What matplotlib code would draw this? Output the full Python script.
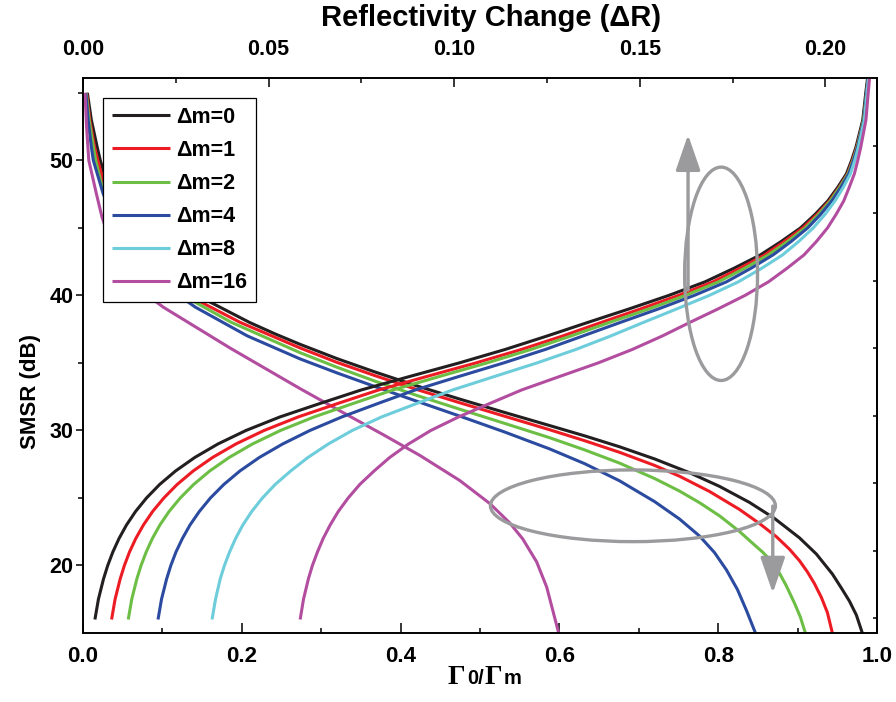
import matplotlib.pyplot as plt
from matplotlib.patches import Ellipse
from matplotlib.offsetbox import TextArea, HPacker, AnchoredOffsetbox
from matplotlib.ticker import MultipleLocator, FormatStrFormatter, NullFormatter

plt.rcParams['font.family'] = ['Liberation Sans', 'DejaVu Sans']
plt.rcParams['font.weight'] = 'bold'

labels = ['Δm=0', 'Δm=1', 'Δm=2', 'Δm=4', 'Δm=8', 'Δm=16']
colors = ['#231f20', '#ed1c24', '#6dbe45', '#2b4ba0', '#6dcddb', '#b24da0']
gray = '#9b9b9e'

# rising curves: SMSR vs reflectivity change (top axis)
smsr_rise = [16, 17.5, 19, 20, 21, 22, 23, 24, 25, 26, 27, 28, 29, 30, 31, 32, 33, 34, 35, 36,
             37, 38, 39, 40, 41, 42, 43, 44, 45, 46, 47, 48, 49, 50, 51, 53, 55, 57]
dR_0 = [0.00321, 0.00415, 0.00552, 0.00666, 0.00804, 0.00971, 0.01172, 0.01416, 0.01711, 0.02065,
        0.02494, 0.03012, 0.03636, 0.04392, 0.05305, 0.06387, 0.07497, 0.08804, 0.10135, 0.11377,
        0.12509, 0.13600, 0.14712, 0.15782, 0.16753, 0.17529, 0.18248, 0.18813, 0.19330, 0.19722,
        0.20066, 0.20331, 0.20566, 0.20706, 0.20825, 0.21007, 0.21088, 0.21176]
dR_1 = [0.00770, 0.00864, 0.01001, 0.01115, 0.01253, 0.01422, 0.01628, 0.01876, 0.02178, 0.02536,
        0.02969, 0.03491, 0.04120, 0.04880, 0.05797, 0.06868, 0.07968, 0.09264, 0.10584, 0.11812,
        0.12926, 0.13963, 0.15022, 0.16043, 0.16967, 0.17690, 0.18365, 0.18898, 0.19394, 0.19775,
        0.20109, 0.20368, 0.20599, 0.20731, 0.20847, 0.21029, 0.21110, 0.21197]
dR_2 = [0.01219, 0.01313, 0.01450, 0.01564, 0.01703, 0.01869, 0.02071, 0.02319, 0.02620, 0.02981,
        0.03414, 0.03938, 0.04567, 0.05321, 0.06224, 0.07281, 0.08353, 0.09606, 0.10883, 0.12073,
        0.13151, 0.14188, 0.15247, 0.16231, 0.17116, 0.17818, 0.18462, 0.18984, 0.19458, 0.19818,
        0.20130, 0.20385, 0.20609, 0.20744, 0.20857, 0.21029, 0.21110, 0.21197]
dR_4 = [0.02021, 0.02115, 0.02252, 0.02366, 0.02505, 0.02678, 0.02883, 0.03134, 0.03433, 0.03794,
        0.04227, 0.04751, 0.05380, 0.06114, 0.06973, 0.07949, 0.08952, 0.10130, 0.11332, 0.12458,
        0.13471, 0.14477, 0.15503, 0.16466, 0.17330, 0.17989, 0.18590, 0.19080, 0.19523, 0.19871,
        0.20173, 0.20417, 0.20631, 0.20759, 0.20868, 0.21039, 0.21110, 0.21197]
dR_8 = [0.03476, 0.03570, 0.03696, 0.03810, 0.03949, 0.04111, 0.04306, 0.04546, 0.04834, 0.05177,
        0.05596, 0.06060, 0.06610, 0.07254, 0.08043, 0.08992, 0.09957, 0.11089, 0.12231, 0.13281,
        0.14220, 0.15097, 0.15995, 0.16872, 0.17651, 0.18278, 0.18847, 0.19283, 0.19672, 0.19989,
        0.20258, 0.20481, 0.20673, 0.20791, 0.20890, 0.21050, 0.21121, 0.21197]
dR_16 = [0.05850, 0.05940, 0.06071, 0.06180, 0.06316, 0.06470, 0.06659, 0.06877, 0.07144, 0.07456,
         0.07842, 0.08263, 0.08770, 0.09372, 0.10117, 0.10960, 0.11818, 0.12843, 0.13878, 0.14800,
         0.15610, 0.16348, 0.17108, 0.17835, 0.18464, 0.18962, 0.19424, 0.19760, 0.20057, 0.20288,
         0.20494, 0.20641, 0.20780, 0.20872, 0.20954, 0.21093, 0.21153, 0.21219]

# falling curves: SMSR vs gamma0/gamma_m (bottom axis)
g_0 = [0.0055, 0.0105, 0.0178, 0.0218, 0.0318, 0.0464, 0.0676, 0.0986, 0.1438, 0.2097, 0.2419,
       0.2733, 0.3199, 0.3677, 0.4205, 0.4746, 0.5312, 0.5878, 0.6318, 0.6758, 0.7199, 0.7639,
       0.8016, 0.8394, 0.8708, 0.9023, 0.9236, 0.9438, 0.9551, 0.9652, 0.9740, 0.9815]
s_0 = [55, 53, 51, 50, 48, 46, 44, 42, 40, 38, 37.15, 36.38, 35.32, 34.33, 33.30, 32.32, 31.33,
       30.36, 29.60, 28.79, 27.89, 26.87, 25.86, 24.67, 23.49, 22.05, 20.85, 19.37, 18.33, 17.37,
       16.33, 15]
g_1 = [0.0045, 0.0085, 0.0145, 0.0186, 0.0277, 0.0408, 0.0602, 0.0887, 0.1323, 0.198, 0.2733,
       0.3199, 0.3677, 0.4205, 0.4746, 0.5312, 0.5878, 0.6318, 0.6758, 0.7199, 0.7513, 0.7891,
       0.8268, 0.8519, 0.8733, 0.8897, 0.9023, 0.9123, 0.9211, 0.9299, 0.9375, 0.9438]
s_1 = [55, 53, 51, 50, 48, 46, 44, 42, 40, 38, 36.11, 35.04, 34.06, 33.03, 32.05, 31.05, 30.05,
       29.24, 28.38, 27.41, 26.61, 25.48, 24.15, 23.11, 22.13, 21.21, 20.36, 19.53, 18.67, 17.64,
       16.52, 15]
g_2 = [0.004, 0.0077, 0.013, 0.016, 0.0242, 0.0367, 0.0554, 0.0838, 0.1258, 0.187, 0.2733,
       0.3199, 0.3677, 0.4205, 0.4746, 0.5312, 0.5878, 0.6318, 0.6758, 0.7199, 0.7513, 0.7765,
       0.8016, 0.8268, 0.8419, 0.8557, 0.8683, 0.8771, 0.8859, 0.8960, 0.9035, 0.9098]
s_2 = [55, 53, 51, 50, 48, 46, 44, 42, 40, 38, 35.76, 34.68, 33.65, 32.59, 31.57, 30.52, 29.46,
       28.56, 27.58, 26.44, 25.51, 24.65, 23.68, 22.52, 21.72, 21.0, 20.26, 19.44, 18.48, 17.22,
       16.18, 15]
g_4 = [0.0035, 0.0065, 0.0105, 0.013, 0.0252, 0.0426, 0.0642, 0.0966, 0.1415, 0.207, 0.2733,
       0.3199, 0.3677, 0.4205, 0.4746, 0.5312, 0.5878, 0.6318, 0.6758, 0.7199, 0.7513, 0.7765,
       0.7953, 0.8104, 0.8243, 0.8356, 0.8469]
s_4 = [55, 53, 51, 50, 47.57, 45, 43, 41, 39.13, 37.0, 35.30, 34.26, 33.25, 32.16, 31.06, 29.88,
       28.63, 27.54, 26.27, 24.73, 23.44, 22.18, 20.96, 19.67, 18.21, 16.67, 15]
g_16 = [0.0025, 0.0045, 0.0073, 0.0167, 0.0239, 0.0368, 0.0532, 0.0758, 0.1011, 0.1853, 0.2733,
        0.3236, 0.3777, 0.4243, 0.4746, 0.5123, 0.5375, 0.5538, 0.5714, 0.5840, 0.5991]
s_16 = [55, 52.5, 50, 47.57, 45.8, 43.57, 41.80, 40.24, 39.13, 36.10, 33.10, 31.45, 29.70, 28.15,
        26.29, 24.59, 23.15, 21.97, 20.26, 18.40, 15]

# ticks of the right axis
right_ticks = [16.1, 21.1, 26.1, 31.1, 36.1, 41.1, 46.1, 51.1]

fig = plt.figure(figsize=(8.96, 7.02), dpi=100)
ax = fig.add_axes([83 / 896, 69 / 702, 794 / 896, 555 / 702])
ax_top = ax.twiny()

lw = 2.2
falling = [(g_0, s_0, colors[0]), (g_1, s_1, colors[1]), (g_2, s_2, colors[2]),
           (g_4, s_4, colors[3]), (g_16, s_16, colors[5])]
for gx, sy, c in falling:
    ax.plot(gx, sy, color=c, lw=lw, solid_capstyle='butt')

handles = []
for dr, c, lab in zip([dR_0, dR_1, dR_2, dR_4, dR_8, dR_16], colors, labels):
    line, = ax_top.plot(dr, smsr_rise, color=c, lw=lw, label=lab, solid_capstyle='butt')
    handles.append(line)

# limits and ticks
ax.set_xlim(0, 1.0)
ax.set_ylim(15, 56.1)
ax_top.set_xlim(0, 0.2139)

ax.set_xticks([0, 0.2, 0.4, 0.6, 0.8, 1.0])
ax.xaxis.set_major_formatter(FormatStrFormatter('%.1f'))
ax.xaxis.set_minor_locator(MultipleLocator(0.1))
ax.set_yticks([20, 30, 40, 50])
ax.set_yticks([25, 35, 45, 55], minor=True)
ax.tick_params(axis='x', which='major', direction='in', length=7.2, width=1.1, pad=9.5, labelsize=16)
ax.tick_params(axis='x', which='minor', direction='in', length=3.6, width=1.1)
ax.tick_params(axis='y', which='major', direction='out', length=5, width=1.1, pad=2, labelsize=15.5)
ax.tick_params(axis='y', which='minor', direction='out', length=3.5, width=1.1)

ax_top.set_xticks([0, 0.05, 0.10, 0.15, 0.20])
ax_top.xaxis.set_major_formatter(FormatStrFormatter('%.2f'))
ax_top.xaxis.set_minor_locator(MultipleLocator(0.025))
ax_top.tick_params(axis='x', which='major', direction='in', length=6.5, width=1.1, pad=13, labelsize=15.5)
ax_top.tick_params(axis='x', which='minor', direction='in', length=3.6, width=1.1)

sec = ax.secondary_yaxis('right')
sec.set_yticks(right_ticks)
sec.yaxis.set_major_formatter(NullFormatter())
sec.tick_params(direction='in', length=3, width=1.1)

for a in (ax, ax_top):
    for sp in a.spines.values():
        sp.set_linewidth(1.2)
sec.spines['right'].set_linewidth(1.2)

# axis titles
ax.set_ylabel('SMSR (dB)', fontsize=16, fontweight='bold')
ax.yaxis.set_label_coords(-0.053, 0.436)
fig.text(491 / 896, 1 - 18 / 702, 'Reflectivity Change (ΔR)', ha='center', va='center',
         fontsize=21, fontweight='bold')

parts = [TextArea('Γ', textprops=dict(family='Liberation Serif', fontweight='bold', size=20)),
         TextArea('0/', textprops=dict(fontweight='bold', size=14.5)),
         TextArea('Γ', textprops=dict(family='Liberation Serif', fontweight='bold', size=20)),
         TextArea('m', textprops=dict(fontweight='bold', size=14.5))]
xlabel_box = HPacker(children=parts, align='baseline', pad=0, sep=1)
anchored = AnchoredOffsetbox(loc='upper center', child=xlabel_box, pad=0, borderpad=0, frameon=False,
                             bbox_to_anchor=(0.506, -0.058), bbox_transform=ax.transAxes)
ax.add_artist(anchored)

# gray ellipses and arrows marking which axis each family belongs to
ax_top.add_patch(Ellipse((0.1719, 41.6), 0.01964, 15.8, fill=False, ec=gray, lw=2.4, zorder=4))
ax_top.annotate('', xy=(0.1630, 51.9), xytext=(0.1630, 40.4),
                arrowprops=dict(arrowstyle='-|>,head_length=1.1,head_width=0.38', color=gray, lw=2.4,
                                mutation_scale=20, shrinkA=0, shrinkB=0), zorder=4)
ax_top.add_patch(Ellipse((0.14815, 24.42), 0.07677, 5.31, fill=False, ec=gray, lw=2.4, zorder=4))
ax_top.annotate('', xy=(0.18582, 17.96), xytext=(0.18582, 24.4),
                arrowprops=dict(arrowstyle='-|>,head_length=1.1,head_width=0.38', color=gray, lw=2.4,
                                mutation_scale=20, shrinkA=0, shrinkB=0), zorder=4)

leg = ax_top.legend(handles, labels, loc='upper left', bbox_to_anchor=(0.0252, 0.9634), borderaxespad=0,
                    prop=dict(weight='bold', size=15.5), handlelength=2.7, handletextpad=0.3,
                    labelspacing=0.56, borderpad=0.4, fancybox=False, framealpha=1, edgecolor='black')
leg.get_frame().set_linewidth(0.9)

fig.savefig('out.png', dpi=100)
